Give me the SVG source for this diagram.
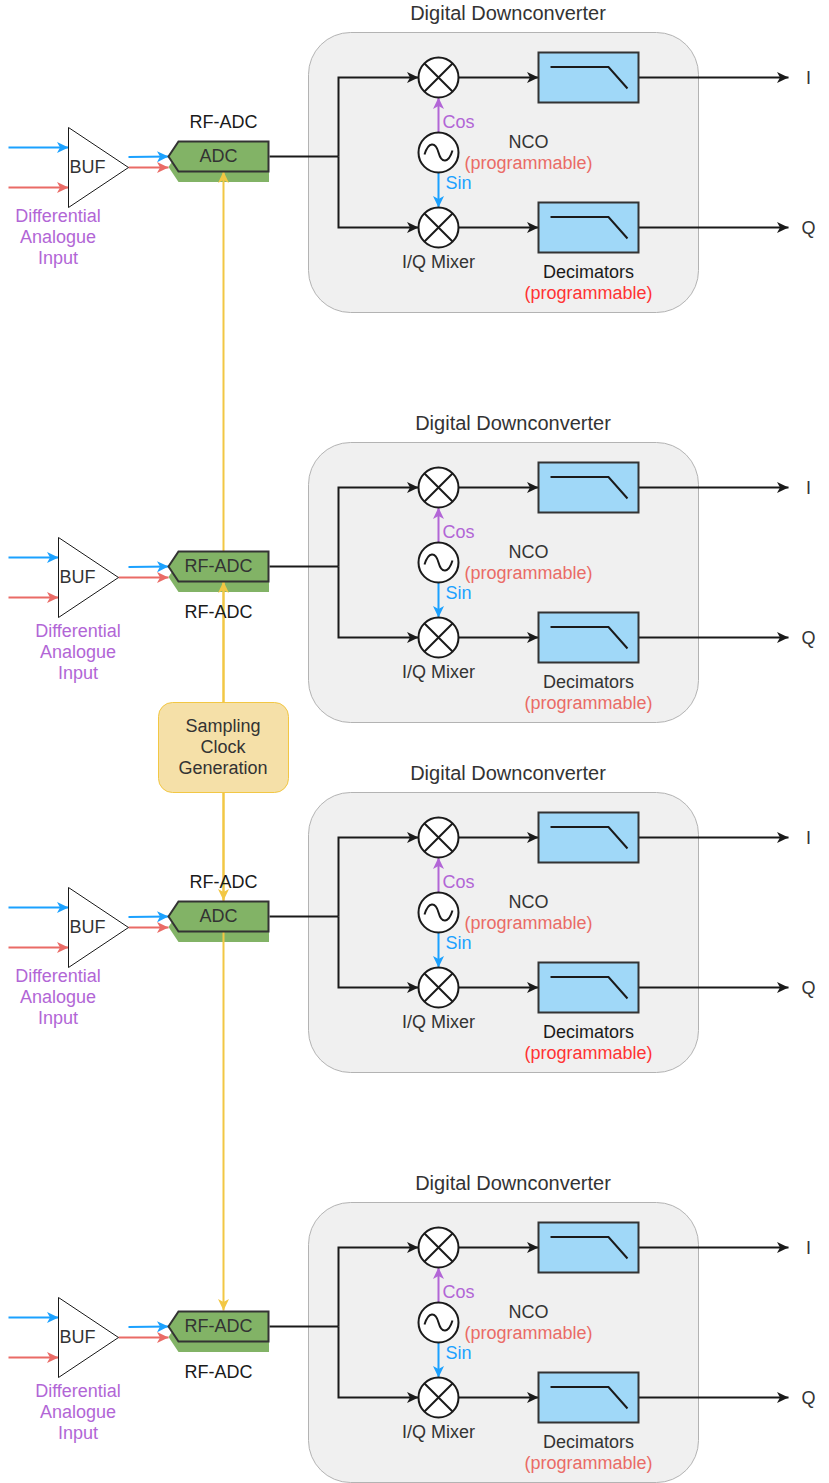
<svg xmlns="http://www.w3.org/2000/svg" xmlns:xlink="http://www.w3.org/1999/xlink" width="829" height="1483" viewBox="0 0 829 1483">
<style>
text{font-family:"Liberation Sans",Arial,sans-serif;font-size:18px;text-anchor:middle;dominant-baseline:central;fill:#333}
.t{font-size:20px}
.k{fill:#1a1a1a}
.p{fill:#b266d6}
.r{fill:#ea6b66}
.rr{fill:#ff3333}
.b{fill:#1ba1ff}
.s{text-anchor:start}
.c{fill:none;stroke-width:2}
.bk{stroke:#1a1a1a;marker-end:url(#mk)}
.bl{stroke:#1a1a1a}
.bu{stroke:#1ba1ff;marker-end:url(#mb)}
.re{stroke:#ea6b66;marker-end:url(#mr)}
.pu{stroke:#b266d6;marker-end:url(#mp)}
.ye{stroke:#f2c744;marker-end:url(#my)}
.ddc{fill:#f0f0f0;stroke:#b3b3b3;stroke-width:1}
.flt{fill:#a0d8f8;stroke:#333;stroke-width:2}
.ic{fill:#fff;stroke:#1a1a1a;stroke-width:2}
.ln{fill:none;stroke:#1a1a1a;stroke-width:2}
.buf{fill:#fff;stroke:#1a1a1a;stroke-width:1}
.gs{fill:#82b366}
.gm{fill:#82b366;stroke:#333;stroke-width:2}
</style>
<defs>
<marker id="mk" viewBox="0 0 12 12" refX="11.500" refY="6" markerWidth="12" markerHeight="12" markerUnits="userSpaceOnUse" orient="auto"><path d="M0 .5L11.500 6L0 11.500L3 6Z" fill="#1a1a1a"/></marker>
<marker id="mb" viewBox="0 0 12 12" refX="11.500" refY="6" markerWidth="12" markerHeight="12" markerUnits="userSpaceOnUse" orient="auto"><path d="M0 .5L11.500 6L0 11.500L3 6Z" fill="#1ba1ff"/></marker>
<marker id="mr" viewBox="0 0 12 12" refX="11.500" refY="6" markerWidth="12" markerHeight="12" markerUnits="userSpaceOnUse" orient="auto"><path d="M0 .5L11.500 6L0 11.500L3 6Z" fill="#ea6b66"/></marker>
<marker id="mp" viewBox="0 0 12 12" refX="11.500" refY="6" markerWidth="12" markerHeight="12" markerUnits="userSpaceOnUse" orient="auto"><path d="M0 .5L11.500 6L0 11.500L3 6Z" fill="#b266d6"/></marker>
<marker id="my" viewBox="0 0 12 12" refX="11.500" refY="6" markerWidth="12" markerHeight="12" markerUnits="userSpaceOnUse" orient="auto"><path d="M0 .5L11.500 6L0 11.500L3 6Z" fill="#f2c744"/></marker>
<g id="mixer"><circle cx="0" cy="0" r="20" class="ic"/><path d="M-14 -14L14 14M14 -14L-14 14" class="ln"/></g>
<g id="osc"><circle cx="0" cy="0" r="20" class="ic"/><path d="M-14 2C-10 -11 -3 -11 0 0C3 11 10 11 14 -2" class="ln"/></g>
<g id="lpf"><rect x="0" y="0" width="100" height="50" class="flt"/><path d="M12 14.500H70L89 36" class="ln"/></g>
</defs>

<g id="ddc-1">
<rect x="308.500" y="32.500" width="390" height="280" rx="42" class="ddc"/>
<text x="508" y="13" class="t">Digital Downconverter</text>
</g>
<g id="ddc-2">
<rect x="308.500" y="442.500" width="390" height="280" rx="42" class="ddc"/>
<text x="513" y="423" class="t">Digital Downconverter</text>
</g>
<g id="ddc-3">
<rect x="308.500" y="792.500" width="390" height="280" rx="42" class="ddc"/>
<text x="508" y="773" class="t">Digital Downconverter</text>
</g>
<g id="ddc-4">
<rect x="308.500" y="1202.500" width="390" height="280" rx="42" class="ddc"/>
<text x="513" y="1183" class="t">Digital Downconverter</text>
</g>

<g id="adc-shadows">
<path d="M178.500 152H269V182H178.500L168.500 167Z" class="gs"/>
<path d="M178.500 562H269V592H178.500L168.500 577Z" class="gs"/>
<path d="M178.500 912H269V942H178.500L168.500 927Z" class="gs"/>
<path d="M178.500 1322H269V1352H178.500L168.500 1337Z" class="gs"/>
</g>

<g id="connectors" transform="translate(.5 .5)">
<path d="M223 702V171" class="c ye"/>
<path d="M223 702V581" class="c ye"/>
<path d="M223 792V900" class="c ye"/>
<path d="M223 792V1310" class="c ye"/>

<path d="M8 147H68" class="c bu"/><path d="M8 187H68" class="c re"/>
<path d="M128 156.500L168 156" class="c bu"/><path d="M128 167H168" class="c re"/>
<path d="M8 557H58" class="c bu"/><path d="M8 597H58" class="c re"/>
<path d="M128 566.500L168 566" class="c bu"/><path d="M118 577H168" class="c re"/>
<path d="M8 907H68" class="c bu"/><path d="M8 947H68" class="c re"/>
<path d="M128 916.500L168 916" class="c bu"/><path d="M128 927H168" class="c re"/>
<path d="M8 1317H58" class="c bu"/><path d="M8 1357H58" class="c re"/>
<path d="M128 1326.500L168 1326" class="c bu"/><path d="M118 1337H168" class="c re"/>

<path d="M269 156H338" class="c bl"/><path d="M338 156V77H418" class="c bk"/><path d="M338 156V227H418" class="c bk"/>
<path d="M458 77H538" class="c bk"/><path d="M458 227H538" class="c bk"/><path d="M638 77H788" class="c bk"/><path d="M638 227H788" class="c bk"/>
<path d="M438 132V97" class="c pu"/><path d="M438 172V207" class="c bu"/>

<path d="M269 566H338" class="c bl"/><path d="M338 566V487H418" class="c bk"/><path d="M338 566V637H418" class="c bk"/>
<path d="M458 487H538" class="c bk"/><path d="M458 637H538" class="c bk"/><path d="M638 487H788" class="c bk"/><path d="M638 637H788" class="c bk"/>
<path d="M438 542V507" class="c pu"/><path d="M438 582V617" class="c bu"/>

<path d="M269 916H338" class="c bl"/><path d="M338 916V837H418" class="c bk"/><path d="M338 916V987H418" class="c bk"/>
<path d="M458 837H538" class="c bk"/><path d="M458 987H538" class="c bk"/><path d="M638 837H788" class="c bk"/><path d="M638 987H788" class="c bk"/>
<path d="M438 892V857" class="c pu"/><path d="M438 932V967" class="c bu"/>

<path d="M269 1326H338" class="c bl"/><path d="M338 1326V1247H418" class="c bk"/><path d="M338 1326V1397H418" class="c bk"/>
<path d="M458 1247H538" class="c bk"/><path d="M458 1397H538" class="c bk"/><path d="M638 1247H788" class="c bk"/><path d="M638 1397H788" class="c bk"/>
<path d="M438 1302V1267" class="c pu"/><path d="M438 1342V1377" class="c bu"/>
</g>

<g id="clock"><rect x="158.500" y="702.500" width="130" height="90" rx="14" fill="#f5e0a8" stroke="#f2c744"/>
<text x="223" y="726">Sampling</text><text x="223" y="747">Clock</text><text x="223" y="768">Generation</text></g>

<g id="input-1"><path d="M68.500 127.500V207.500L128.500 167.500Z" class="buf"/><text x="87.500" y="167">BUF</text>
<text x="58" y="216" class="p">Differential</text><text x="58" y="237" class="p">Analogue</text><text x="58" y="258" class="p">Input</text></g>
<g id="adc-1"><path d="M178.500 141.500H268.500V171.500H178.500L168.500 156.500Z" class="gm"/><text x="218.500" y="156">ADC</text><text x="223.500" y="122" class="k">RF-ADC</text></g>
<g id="ddc-1-parts" transform="translate(.5 .5)">
<use href="#mixer" x="438" y="77"/><use href="#osc" x="438" y="152"/><use href="#mixer" x="438" y="227"/>
<use href="#lpf" x="538" y="52"/><use href="#lpf" x="538" y="202"/>
<text x="442" y="121" class="p s">Cos</text><text x="445" y="182" class="b s">Sin</text>
<text x="528" y="141">NCO</text><text x="528" y="162" class="r">(programmable)</text>
<text x="438" y="261">I/Q Mixer</text><text x="588" y="271" class="k">Decimators</text><text x="588" y="292" class="rr">(programmable)</text>
<text x="808" y="77">I</text><text x="808" y="227">Q</text></g>

<g id="input-2"><path d="M58.500 537.500V617.500L118.500 577.500Z" class="buf"/><text x="77.500" y="577">BUF</text>
<text x="78" y="631" class="p">Differential</text><text x="78" y="652" class="p">Analogue</text><text x="78" y="673" class="p">Input</text></g>
<g id="adc-2"><path d="M178.500 551.500H268.500V581.500H178.500L168.500 566.500Z" class="gm"/><text x="218.500" y="566">RF-ADC</text><text x="218.500" y="611.500" class="k">RF-ADC</text></g>
<g id="ddc-2-parts" transform="translate(.5 .5)">
<use href="#mixer" x="438" y="487"/><use href="#osc" x="438" y="562"/><use href="#mixer" x="438" y="637"/>
<use href="#lpf" x="538" y="462"/><use href="#lpf" x="538" y="612"/>
<text x="442" y="531" class="p s">Cos</text><text x="445" y="592" class="b s">Sin</text>
<text x="528" y="551">NCO</text><text x="528" y="572" class="r">(programmable)</text>
<text x="438" y="671">I/Q Mixer</text><text x="588" y="681">Decimators</text><text x="588" y="702" class="r">(programmable)</text>
<text x="808" y="487">I</text><text x="808" y="637">Q</text></g>

<g id="input-3"><path d="M68.500 887.500V967.500L128.500 927.500Z" class="buf"/><text x="87.500" y="927">BUF</text>
<text x="58" y="976" class="p">Differential</text><text x="58" y="997" class="p">Analogue</text><text x="58" y="1018" class="p">Input</text></g>
<g id="adc-3"><path d="M178.500 901.500H268.500V931.500H178.500L168.500 916.500Z" class="gm"/><text x="218.500" y="916">ADC</text><text x="223.500" y="882" class="k">RF-ADC</text></g>
<g id="ddc-3-parts" transform="translate(.5 .5)">
<use href="#mixer" x="438" y="837"/><use href="#osc" x="438" y="912"/><use href="#mixer" x="438" y="987"/>
<use href="#lpf" x="538" y="812"/><use href="#lpf" x="538" y="962"/>
<text x="442" y="881" class="p s">Cos</text><text x="445" y="942" class="b s">Sin</text>
<text x="528" y="901">NCO</text><text x="528" y="922" class="r">(programmable)</text>
<text x="438" y="1021">I/Q Mixer</text><text x="588" y="1031" class="k">Decimators</text><text x="588" y="1052" class="rr">(programmable)</text>
<text x="808" y="837">I</text><text x="808" y="987">Q</text></g>

<g id="input-4"><path d="M58.500 1297.500V1377.500L118.500 1337.500Z" class="buf"/><text x="77.500" y="1337">BUF</text>
<text x="78" y="1391" class="p">Differential</text><text x="78" y="1412" class="p">Analogue</text><text x="78" y="1433" class="p">Input</text></g>
<g id="adc-4"><path d="M178.500 1311.500H268.500V1341.500H178.500L168.500 1326.500Z" class="gm"/><text x="218.500" y="1326">RF-ADC</text><text x="218.500" y="1371.500" class="k">RF-ADC</text></g>
<g id="ddc-4-parts" transform="translate(.5 .5)">
<use href="#mixer" x="438" y="1247"/><use href="#osc" x="438" y="1322"/><use href="#mixer" x="438" y="1397"/>
<use href="#lpf" x="538" y="1222"/><use href="#lpf" x="538" y="1372"/>
<text x="442" y="1291" class="p s">Cos</text><text x="445" y="1352" class="b s">Sin</text>
<text x="528" y="1311">NCO</text><text x="528" y="1332" class="r">(programmable)</text>
<text x="438" y="1431">I/Q Mixer</text><text x="588" y="1441">Decimators</text><text x="588" y="1462" class="r">(programmable)</text>
<text x="808" y="1247">I</text><text x="808" y="1397">Q</text></g>
</svg>
